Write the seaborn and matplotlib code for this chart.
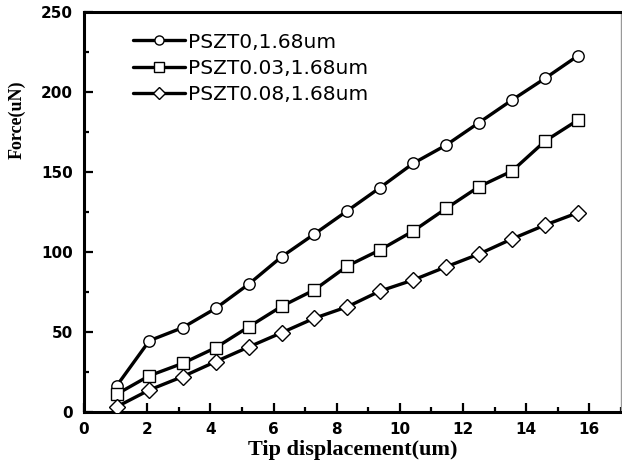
import numpy as np
import pandas as pd
import matplotlib
matplotlib.use('Agg')
import matplotlib.pyplot as plt
from matplotlib.ticker import MultipleLocator
import seaborn as sns

# Dữ liệu
tip_disp = [1.04, 2.07, 3.12, 4.17, 5.22, 6.26, 7.29, 8.34, 9.37, 10.42,
            11.47, 12.50, 13.55, 14.60, 15.64]
force_pszt0 = [16.3, 44.4, 52.5, 64.6, 79.8, 96.9, 111.0, 125.6, 140.0, 155.2,
               166.7, 180.6, 194.8, 208.4, 222.5]
force_pszt003 = [11.0, 22.5, 30.2, 40.0, 53.1, 65.9, 76.1, 91.1, 101.1, 112.9,
                 127.1, 140.6, 150.4, 169.2, 182.3]
force_pszt008 = [3.1, 13.6, 21.9, 31.3, 40.5, 49.4, 58.4, 65.6, 75.4, 82.3,
                 90.6, 98.5, 108.0, 116.7, 124.4]
series_labels = ['PSZT0,1.68um', 'PSZT0.03,1.68um', 'PSZT0.08,1.68um']
series_markers = ['o', 's', 'D']
x_ticks = [0, 2, 4, 6, 8, 10, 12, 14, 16]
y_ticks = [0, 50, 100, 150, 200, 250]

sns.set_style('ticks')
plt.rcParams['font.family'] = ['DejaVu Sans']
plt.rcParams['text.color'] = 'black'
plt.rcParams['axes.labelcolor'] = 'black'
plt.rcParams['xtick.color'] = 'black'
plt.rcParams['ytick.color'] = 'black'

fig = plt.figure(figsize=(6.22, 4.74), dpi=100)
ax = fig.add_axes([84 / 622, 62.3 / 474, 537 / 622, 400 / 474])

all_series = [force_pszt0, force_pszt003, force_pszt008]
for values, label, mk in zip(all_series, series_labels, series_markers):
    df = pd.DataFrame({'x': tip_disp, 'y': values})
    sns.lineplot(data=df, x='x', y='y', ax=ax, color='black', linewidth=2.4,
                 marker=mk, markersize=8.2 if mk != 'D' else 7.8,
                 markerfacecolor='white', markeredgecolor='black',
                 markeredgewidth=1.0, label=label, zorder=3)

ax.set_xlim(0, 17)
ax.set_ylim(0, 250)
ax.set_xticks(x_ticks)
ax.set_yticks(y_ticks)
ax.xaxis.set_minor_locator(MultipleLocator(1))
ax.yaxis.set_minor_locator(MultipleLocator(25))
ax.tick_params(which='both', direction='in', width=1.6, top=False, right=False)
ax.tick_params(which='major', length=6.5)
ax.tick_params(which='minor', length=3.6)
ax.tick_params(axis='x', which='major', pad=7.5)
ax.tick_params(axis='y', which='major', pad=8)
for lab in ax.get_xticklabels() + ax.get_yticklabels():
    lab.set_fontweight('bold')
    lab.set_fontsize(11)
for sp in ax.spines.values():
    sp.set_linewidth(2.2)
    sp.set_color('black')
ax.spines['right'].set_color('#999999')
ax.spines['right'].set_linewidth(1.0)

ax.set_xlabel('Tip displacement(um)', family='Liberation Serif',
              fontweight='bold', fontsize=16)
ax.xaxis.set_label_coords(0.5, -0.072)
ax.set_ylabel('Force(uN)', family='Liberation Serif',
              fontweight='bold', fontsize=13)
ax.yaxis.set_label_coords(-0.108, 0.73)

ax.legend(loc='upper left', bbox_to_anchor=(0.091, 0.948), frameon=False,
          borderpad=0, borderaxespad=0, handlelength=2.6, handletextpad=0.15,
          labelspacing=0.36, fontsize=14.5, numpoints=1, markerscale=0.8)

plt.savefig('out.png', dpi=100)
plt.close()
